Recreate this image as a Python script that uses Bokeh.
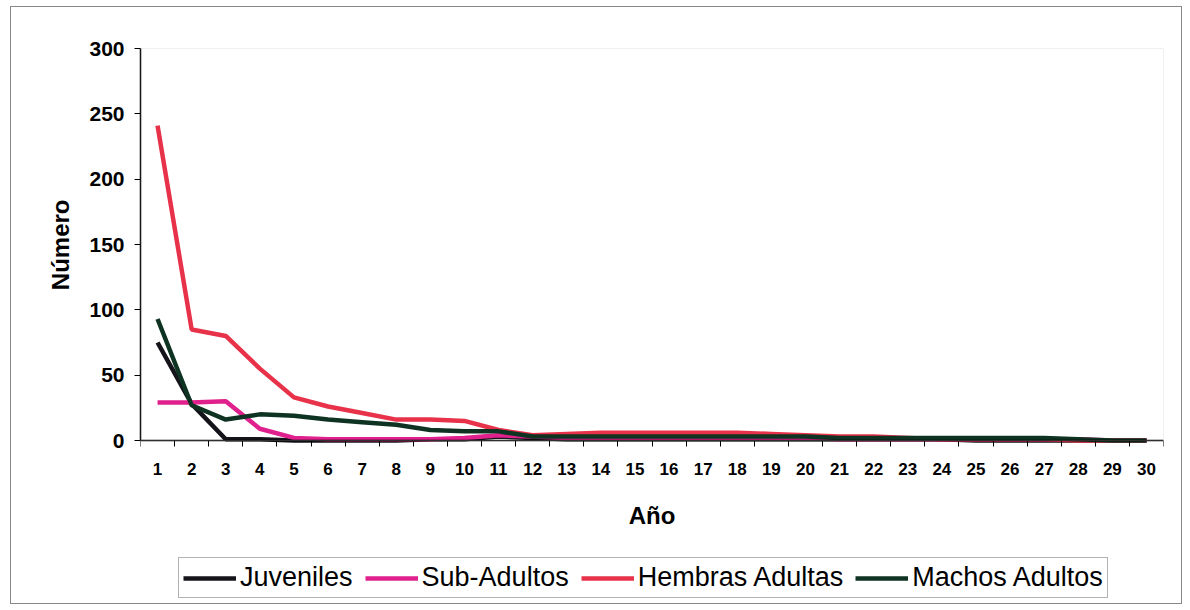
from bokeh.plotting import figure
from bokeh.models import FixedTicker, Legend, LegendItem, Range1d, BoxAnnotation, Title
from bokeh.embed import file_html
from bokeh.resources import INLINE

years = list(range(1, 31))
juveniles = [75, 28, 1, 1, 0, 0, 0, 0, 1, 1, 3, 2, 1, 1, 1, 1, 1, 1, 1, 1, 1, 1, 1, 1, 0, 0, 0, 0, 0, 0]
sub_adultos = [29, 29, 30, 9, 2, 1, 1, 1, 1, 2, 4, 3, 2, 2, 2, 2, 2, 2, 2, 2, 1, 1, 1, 1, 1, 1, 1, 1, 0, 0]
hembras = [241, 85, 80, 55, 33, 26, 21, 16, 16, 15, 8, 4, 5, 6, 6, 6, 6, 6, 5, 4, 3, 3, 2, 1, 1, 1, 1, 0, 0, 0]
machos = [93, 27, 16, 20, 19, 16, 14, 12, 8, 7, 7, 3, 3, 3, 3, 3, 3, 3, 3, 3, 2, 2, 2, 2, 2, 2, 2, 1, 0, 0]
y_ticks = [0, 50, 100, 150, 200, 250, 300]

series = [
    ("Juveniles", juveniles, "#14141a"),
    ("Sub-Adultos", sub_adultos, "#e0208c"),
    ("Hembras Adultas", hembras, "#e8324a"),
    ("Machos Adultos", machos, "#0f3322"),
]

FONT = "Liberation Sans"
Y_MAX = 300
FRAME_H = 555
PLOT_H = 392
Y_MIN = -(FRAME_H - PLOT_H) / PLOT_H * Y_MAX

p = figure(output_backend="svg", toolbar_location=None,
           x_range=Range1d(0.5, 30.5), y_range=Range1d(Y_MIN, Y_MAX))
p.frame_width = 1023
p.frame_height = FRAME_H
p.min_border_left = 129
p.min_border_top = 41
p.min_border_right = 18
p.min_border_bottom = 0
p.outline_line_color = None
p.xgrid.visible = False
p.ygrid.visible = False
p.background_fill_color = "white"
p.border_fill_color = "white"
p.styles = {"border": "1px solid #888888", "margin": "6px 0px 0px 10px"}

# plot-area border (top/right visible in gray)
p.add_layout(BoxAnnotation(left=0.5, right=30.5, bottom=0, top=Y_MAX,
                           fill_alpha=0, line_color="#9a9a9a", line_width=1))

items = []
for name, vals, col in series:
    r = p.line(years, vals, line_color=col, line_width=4.5)
    items.append(LegendItem(label=name, renderers=[r]))

# x axis (placed at y = 0)
p.xaxis.fixed_location = 0
p.xaxis.ticker = FixedTicker(ticks=years, minor_ticks=[i + 0.5 for i in range(0, 31)])
p.xaxis.major_tick_out = 0
p.xaxis.major_tick_in = 0
p.xaxis.minor_tick_out = 6
p.xaxis.minor_tick_in = 0
p.xaxis.minor_tick_line_color = "black"
p.xaxis.axis_line_color = "black"
p.xaxis.axis_line_width = 1.5
p.xaxis.major_label_text_font = FONT
p.xaxis.major_label_text_font_style = "bold"
p.xaxis.major_label_text_font_size = "17px"
p.xaxis.major_label_text_color = "black"
p.xaxis.major_label_standoff = 16
p.xaxis.axis_label = "Año"
p.xaxis.axis_label_text_font = FONT
p.xaxis.axis_label_text_font_style = "bold"
p.xaxis.axis_label_text_font_size = "24px"
p.xaxis.axis_label_text_color = "black"
p.xaxis.axis_label_standoff = 24

# y axis
p.yaxis.bounds = (0, Y_MAX)
p.yaxis.ticker = FixedTicker(ticks=y_ticks, minor_ticks=[])
p.yaxis.major_tick_out = 6
p.yaxis.major_tick_in = 0
p.yaxis.axis_line_color = "black"
p.yaxis.axis_line_width = 1.5
p.yaxis.major_label_text_font = FONT
p.yaxis.major_label_text_font_style = "bold"
p.yaxis.major_label_text_font_size = "21px"
p.yaxis.major_label_text_color = "black"
p.yaxis.major_label_standoff = 10
p.yaxis.axis_label = None

# y-axis title, placed over the 0..300 span
ytitle = Title(text="Número", align="right", offset=151, standoff=25,
               text_font=FONT, text_font_style="bold", text_font_size="24px",
               text_color="black")
p.add_layout(ytitle, "left")

legend = Legend(items=items, orientation="horizontal", location=(38, 5),
                label_text_font=FONT, label_text_font_size="27px",
                label_text_color="black", glyph_width=53, glyph_height=20,
                label_standoff=4, spacing=12, padding=4, margin=0,
                border_line_color="#666666", border_line_width=1,
                background_fill_color="white")
p.add_layout(legend, "center")

open("out.html", "w").write(file_html(p, INLINE))
